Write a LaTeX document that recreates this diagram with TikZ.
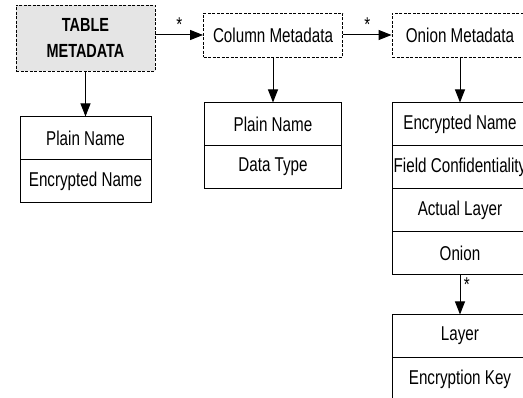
\documentclass[tikz,border=0pt]{standalone}
\usepackage{fontspec}
\setmainfont{Liberation Sans}[FakeStretch=0.76]
\usetikzlibrary{arrows.meta,positioning}

\begin{document}
\begin{tikzpicture}[
    x=1pt, y=1pt,
    every node/.style={font=\fontsize{20}{26}\selectfont},
    meta/.style={draw, dash pattern=on 3pt off 1.5pt, line width=0.9pt,
      minimum height=44pt, inner sep=2pt, align=center},
    field/.style={draw, line width=1pt, minimum height=43pt,
      outer sep=0pt, inner sep=0pt},
    arr/.style={-{Triangle[length=13pt,width=10pt]}, line width=1pt},
  ]
  \useasboundingbox (0,0) rectangle (523,-398);
  \clip (0,0) rectangle (523,-398);

  % metadata headers
  \node[meta, fill=gray!20, minimum width=139pt, minimum height=66pt,
        font=\bfseries\fontsize{19}{26}\selectfont] (tbl) at (85.5,-38) {TABLE\\METADATA};
  \node[meta, minimum width=139pt] (col) at (273,-35) {Column Metadata};
  \node[meta, minimum width=136pt] (oni) at (460,-35) {Onion Metadata};

  % table fields
  \node[field, minimum width=131pt, below=45pt of tbl] (tplain) {Plain Name};
  \node[field, minimum width=131pt, below=0pt of tplain] (tenc) {Encrypted Name};

  % column fields
  \node[field, minimum width=137pt, below=45pt of col] (cplain) {Plain Name};
  \node[field, minimum width=137pt, below=0pt of cplain] (ctype) {Data Type};

  % onion fields
  \node[field, minimum width=136pt, below=45pt of oni] (oenc) {Encrypted Name};
  \node[field, minimum width=136pt, below=0pt of oenc] (oconf) {Field Confidentiality};
  \node[field, minimum width=136pt, below=0pt of oconf] (olayer) {Actual Layer};
  \node[field, minimum width=136pt, below=0pt of olayer] (oonion) {Onion};

  % layer fields
  \node[field, minimum width=136pt, below=40pt of oonion] (klayer) {Layer};
  \node[field, minimum width=136pt, below=0pt of klayer] (kkey) {Encryption Key};

  \draw[arr] (tbl.east |- col.west) -- (col.west) node[midway, above] {*};
  \draw[arr] (col) -- (oni) node[midway, above] {*};
  \draw[arr] (tbl) -- (tplain);
  \draw[arr] (col) -- (cplain);
  \draw[arr] (oni) -- (oenc);
  \draw[arr] (oonion) -- (klayer) node[near start, right] {*};
\end{tikzpicture}
\end{document}
